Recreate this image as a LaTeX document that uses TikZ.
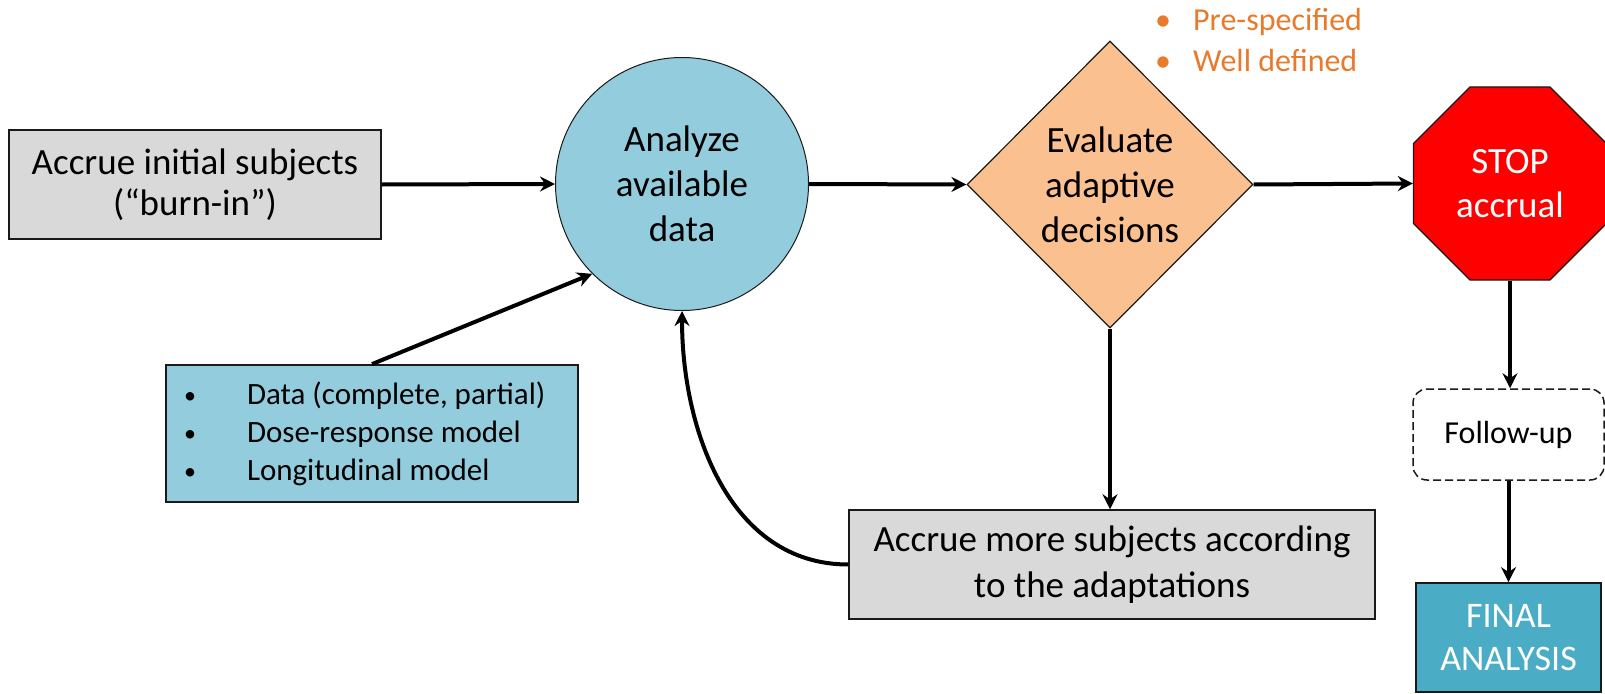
\documentclass[tikz,border=0pt]{standalone}
\usepackage{fontspec}
\setmainfont{Carlito}
\usetikzlibrary{shapes.geometric,arrows.meta}
\definecolor{boxgray}{HTML}{D9D9D9}
\definecolor{ltblue}{HTML}{93CDDD}
\definecolor{peach}{HTML}{FAC090}
\definecolor{finblue}{HTML}{4BACC6}
\definecolor{stopred}{HTML}{FF0000}
\definecolor{orangetxt}{HTML}{E97A2C}
\definecolor{edge}{HTML}{1A1A1A}
\newcommand{\smallbul}{\makebox[63pt][l]{\raisebox{1pt}{\fontsize{24}{24}\selectfont •}}}
\tikzset{
  bigtxt/.style={font=\fontsize{37}{45}\selectfont, align=center},
  graybox/.style={rectangle, draw=edge, line width=1.5pt, fill=boxgray, inner sep=0pt, bigtxt},
  arr/.style={line width=4pt, -{Stealth[length=15pt,width=15pt,inset=5pt]}},
}
\begin{document}
\begin{tikzpicture}[x=1pt,y=1pt]
\useasboundingbox (0,0) rectangle (1605,-693);
\fill[white] (0,0) rectangle (1605,-693);

% nodes
\node[graybox, minimum width=372pt, minimum height=109pt, font=\fontsize{37}{41}\selectfont] (b1) at (195,-184.5) {Accrue initial subjects\\(“burn-in”)};

\node[circle, draw=edge, line width=1pt, fill=ltblue, minimum size=253pt, inner sep=0pt, bigtxt] (circ) at (682,-184) {Analyze\\available\\data};

\node[diamond, draw=edge, line width=1.2pt, fill=peach, minimum width=286pt, minimum height=287pt, inner sep=0pt, bigtxt] (dia) at (1110,-184.5) {Evaluate\\adaptive\\decisions};

\node[regular polygon, regular polygon sides=8, minimum size=209pt, inner sep=0pt, draw=edge, line width=1.2pt, fill=stopred, text=white, font=\fontsize{37}{44}\selectfont, align=center] (oct) at (1510,-183.5) {STOP\\accrual};

\node[rectangle, draw=edge, dashed, dash pattern=on 8pt off 4pt, line width=1.5pt, rounded corners=14pt, fill=white, minimum width=191pt, minimum height=91pt, inner sep=0pt, font=\fontsize{32}{35}\selectfont] (fu) at (1508.5,-434.5) {Follow-up};

\node[rectangle, draw=edge, line width=1.8pt, fill=finblue, text=white, minimum width=185pt, minimum height=109pt, inner sep=0pt, font=\fontsize{36}{43}\selectfont, align=center] (fin) at (1508.5,-637.5) {FINAL\\ANALYSIS};

\node[graybox, minimum width=526pt, minimum height=109pt, font=\fontsize{37}{46}\selectfont] (gray) at (1112,-564.5) {Accrue more subjects according\\to the adaptations};

\node[rectangle, draw=edge, line width=1.8pt, fill=ltblue, minimum width=412pt, minimum height=137pt, inner xsep=0pt, inner ysep=0pt, text width=412pt, align=flush left, font=\fontsize{31}{38}\selectfont] (bul) at (372,-433.5) {\hspace*{18pt}\smallbul Data (complete, partial)\\\hspace*{18pt}\smallbul Dose-response model\\\hspace*{18pt}\smallbul Longitudinal model};

\node[anchor=west, inner sep=0pt, text=orangetxt, align=flush left, font=\fontsize{32}{40}\selectfont] (crit) at (1155,-40) {\makebox[38pt][l]{•}Pre-specified\\\makebox[38pt][l]{•}Well defined};

% connectors
\draw[arr] (b1.east) -- (circ.west);
\draw[arr] (circ.east) -- (dia.west);
\draw[arr] (dia.east) -- (oct.west);
\draw[arr] (bul.north) -- (circ.225);
\draw[arr] (dia.south) -- (dia.south |- gray.north);
\draw[arr] (gray.west) to[out=180,in=-90] (circ.south);
\draw[arr] (oct.south) -- (oct.south |- fu.north);
\draw[arr] (fu.south) -- (fu.south |- fin.north);
\end{tikzpicture}
\end{document}
